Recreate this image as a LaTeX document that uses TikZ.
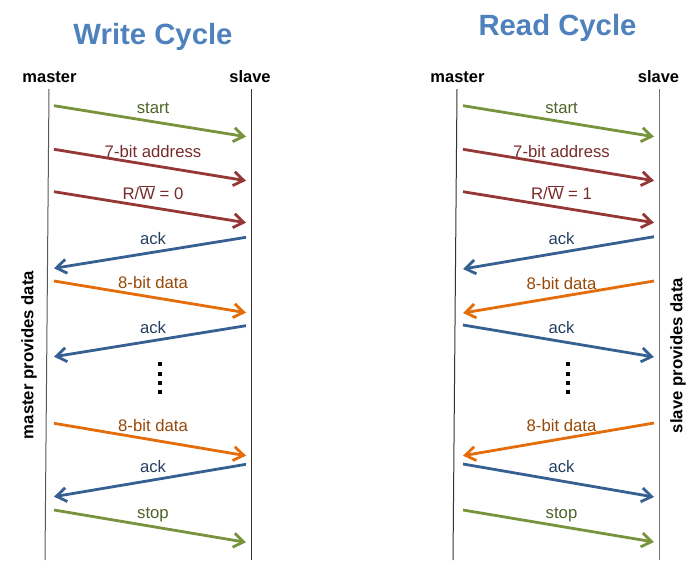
\documentclass[tikz,border=0pt]{standalone}
\usepackage{fontspec}
\setmainfont{Liberation Sans}
\usetikzlibrary{arrows.meta}

\definecolor{ttl}{HTML}{4F81BD}
\definecolor{grnA}{HTML}{77933C}
\definecolor{grnT}{HTML}{4F6228}
\definecolor{redA}{HTML}{953735}
\definecolor{redT}{HTML}{772C2A}
\definecolor{bluA}{HTML}{376092}
\definecolor{bluT}{HTML}{254061}
\definecolor{ornA}{HTML}{E46C0A}
\definecolor{ornT}{HTML}{984807}

\begin{document}
\begin{tikzpicture}[x=1pt, y=-1pt,
    title/.style={font=\bfseries\fontsize{29.3}{34}\selectfont, text=ttl, anchor=base, inner sep=0pt},
    party/.style={font=\bfseries\fontsize{16.5}{19}\selectfont, anchor=base, inner sep=0pt},
    side/.style={font=\bfseries\fontsize{16.7}{19}\selectfont, rotate=90, inner sep=0pt},
    lifeline/.style={line width=1pt, black!80},
    msg/.style={line width=2.8pt, -{Straight Barb[length=10pt,width=14pt]}},
    lbl/.style={font=\fontsize{16.7}{19}\selectfont, anchor=base, inner sep=0pt, midway, xshift=3pt, yshift=8pt}]
    \useasboundingbox (0,0) rectangle (695,578);

    % Write cycle (left)
    \node[title] (wtitle) at (153,45) {Write Cycle};
    \node[party] (wmaster) at (49.5,82) {master};
    \node[party] (wslave) at (250,82) {slave};
    \coordinate (wmtop) at (49,89);
    \coordinate (wmbot) at (45,560);
    \coordinate (wstop) at (251,89);
    \coordinate (wsbot) at (251,560);
    \draw[lifeline, black!65] (wmtop) -- (wmbot);
    \draw[lifeline] (wstop) -- (wsbot);
    \node[side] (wside) at (29,355) {master provides data};

    \foreach \i/\ym/\ys/\a/\b/\col/\txt in {
        1/105.7/136.7/m/s/grn/start,
        2/149.3/180.7/m/s/red/7-bit address,
        3/191.7/222.7/m/s/red/{R/$\overline{\hbox{W}}$ = 0},
        4/268.3/237.3/s/m/blu/ack,
        5/281/312.7/m/s/orn/8-bit data,
        6/356.7/325.7/s/m/blu/ack,
        7/423.3/455.7/m/s/orn/8-bit data,
        8/496.7/464.3/s/m/blu/ack,
        9/510/542.3/m/s/grn/stop} {
        \coordinate (wm\i) at (54,\ym);
        \coordinate (ws\i) at (246,\ys);
        \draw[msg, draw=\col A] (w\a\i) -- (w\b\i) node[lbl, text=\col T] (wl\i) {\txt};
    }
    \foreach \k in {0,...,3}
        \fill (157.8,362.3+\k*9.35) rectangle ++(4.5,4);

    % Read cycle (right)
    \node[title] (rtitle) at (557.5,36) {Read Cycle};
    \node[party] (rmaster) at (457.5,82) {master};
    \node[party] (rslave) at (658.5,82) {slave};
    \coordinate (rmtop) at (457,89);
    \coordinate (rmbot) at (453,560);
    \coordinate (rstop) at (659,89);
    \coordinate (rsbot) at (659,560);
    \draw[lifeline] (rmtop) -- (rmbot);
    \draw[lifeline, black!55] (rstop) -- (rsbot);
    \node[side] (rside) at (678,355.5) {slave provides data};

    \foreach \i/\ym/\ys/\a/\b/\col/\txt in {
        1/105.7/136.7/m/s/grn/start,
        2/149.3/180.7/m/s/red/7-bit address,
        3/191.7/222.7/m/s/red/{R/$\overline{\hbox{W}}$ = 1},
        4/269/236.7/s/m/blu/ack,
        5/313/281/s/m/orn/8-bit data,
        6/325/357/m/s/blu/ack,
        7/455.7/423/s/m/orn/8-bit data,
        8/464/497/m/s/blu/ack,
        9/510/542/m/s/grn/stop} {
        \coordinate (rm\i) at (463,\ym);
        \coordinate (rs\i) at (654,\ys);
        \draw[msg, draw=\col A] (r\a\i) -- (r\b\i) node[lbl, text=\col T] (rl\i) {\txt};
    }
    \foreach \k in {0,...,3}
        \fill (565.8,362.3+\k*9.35) rectangle ++(4.5,4);
\end{tikzpicture}
\end{document}
